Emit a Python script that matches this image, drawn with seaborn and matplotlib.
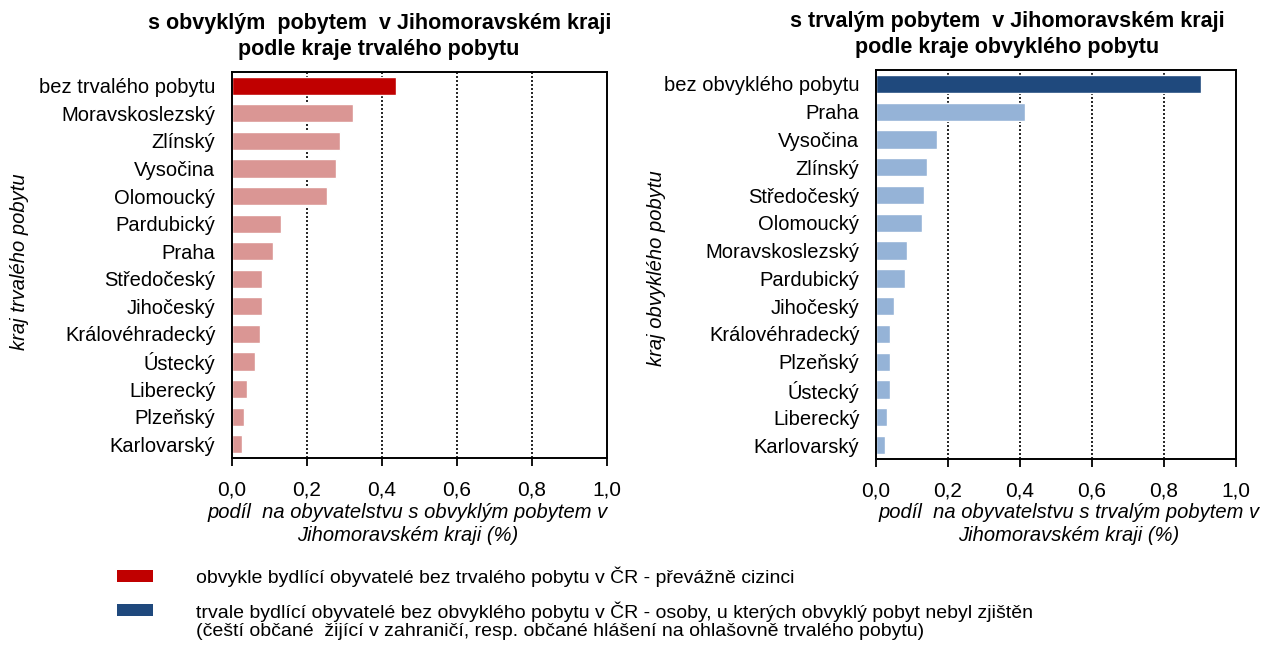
import matplotlib
matplotlib.use("Agg")
import matplotlib.pyplot as plt
import seaborn as sns
import pandas as pd
from matplotlib.patches import Rectangle

sns.set_theme(style="white")
plt.rcParams['font.family'] = ['Liberation Sans', 'DejaVu Sans']

# Left chart data
left_cats = ["bez trvalého pobytu", "Moravskoslezský", "Zlínský", "Vysočina", "Olomoucký",
             "Pardubický", "Praha", "Středočeský", "Jihočeský", "Královéhradecký",
             "Ústecký", "Liberecký", "Plzeňský", "Karlovarský"]
left_vals = [0.437, 0.323, 0.288, 0.277, 0.253, 0.131, 0.109, 0.080, 0.080, 0.075,
             0.061, 0.040, 0.032, 0.027]

# Right chart data
right_cats = ["bez obvyklého pobytu", "Praha", "Vysočina", "Zlínský", "Středočeský",
              "Olomoucký", "Moravskoslezský", "Pardubický", "Jihočeský", "Královéhradecký",
              "Plzeňský", "Ústecký", "Liberecký", "Karlovarský"]
right_vals = [0.904, 0.414, 0.170, 0.142, 0.133, 0.128, 0.086, 0.080, 0.049, 0.038,
              0.038, 0.038, 0.030, 0.024]

xticks = [0.0, 0.2, 0.4, 0.6, 0.8, 1.0]
xtick_labels = ["0,0", "0,2", "0,4", "0,6", "0,8", "1,0"]

RED, PINK = "#C00000", "#DA9694"
DBLUE, LBLUE = "#1F497D", "#95B3D7"

W, H = 1261, 646
fig = plt.figure(figsize=(W / 100, H / 100), dpi=100)


def ax_rect(x0, y0, x1, y1):
    return [x0 / W, 1 - y1 / H, (x1 - x0) / W, (y1 - y0) / H]


def draw(ax, cats, vals, first_col, rest_col):
    df = pd.DataFrame({"cat": cats, "val": vals})
    pal = {c: (first_col if i == 0 else rest_col) for i, c in enumerate(cats)}
    sns.barplot(data=df, x="val", y="cat", hue="cat", palette=pal, legend=False,
                orient="h", width=0.66, ax=ax, saturation=1)
    ax.set_xlim(0, 1.0)
    ax.set_ylim(len(cats) - 0.5, -0.5)
    ax.set_xticks(xticks)
    ax.set_xticklabels(xtick_labels, fontsize=15)
    ax.tick_params(axis="x", direction="out", length=6, width=1.3, color="black",
                   pad=10, bottom=True)
    ax.tick_params(axis="y", length=0, pad=12, labelsize=14.5)
    for lab in ax.get_yticklabels():
        lab.set_color("black")
    for lab in ax.get_xticklabels():
        lab.set_color("black")
    ax.set_xlabel("")
    ax.set_ylabel("")
    for x in xticks[1:-1]:
        ax.axvline(x, color="black", linestyle=(0, (1.2, 1.2)), linewidth=1.2, zorder=0)
    for s in ax.spines.values():
        s.set_visible(True)
        s.set_color("black")
        s.set_linewidth(1.4)


ax1 = fig.add_axes(ax_rect(232, 72, 607, 458))
draw(ax1, left_cats, left_vals, RED, PINK)
ax2 = fig.add_axes(ax_rect(876, 70, 1236, 459))
draw(ax2, right_cats, right_vals, DBLUE, LBLUE)


def ft(x, y, s, **kw):
    fig.text(x / W, 1 - y / H, s, **kw)


title_kw = dict(fontsize=15.5, fontweight="bold", ha="center", va="center", color="black")
ft(380, 24, "s obvyklým  pobytem  v Jihomoravském kraji", **title_kw)
ft(379, 50, "podle kraje trvalého pobytu", **title_kw)
ft(1007, 22, "s trvalým pobytem  v Jihomoravském kraji", **title_kw)
ft(1007, 48, "podle kraje obvyklého pobytu", **title_kw)

xl_kw = dict(fontsize=14.5, style="italic", ha="center", va="center", color="black",
             linespacing=1.25)
ft(408, 524, "podíl  na obyvatelstvu s obvyklým pobytem v\nJihomoravském kraji (%)", **xl_kw)
ft(1069, 524, "podíl  na obyvatelstvu s trvalým pobytem v\nJihomoravském kraji (%)", **xl_kw)

yl_kw = dict(fontsize=14.5, style="italic", ha="center", va="center", rotation=90, color="black")
ft(20, 262, "kraj trvalého pobytu", **yl_kw)
ft(657, 268, "kraj obvyklého pobytu", **yl_kw)

# Legend
fig.patches.append(Rectangle((117 / W, 1 - 582 / H), 36 / W, 12 / H, transform=fig.transFigure,
                             facecolor=RED, edgecolor="none"))
fig.patches.append(Rectangle((117 / W, 1 - 616 / H), 36 / W, 12 / H, transform=fig.transFigure,
                             facecolor=DBLUE, edgecolor="none"))
leg_kw = dict(fontsize=14, ha="left", va="center", color="black")
ft(196, 577, "obvykle bydlící obyvatelé bez trvalého pobytu v ČR - převážně cizinci", **leg_kw)
ft(196, 621, "trvale bydlící obyvatelé bez obvyklého pobytu v ČR - osoby, u kterých obvyklý pobyt nebyl zjištěn\n"
             "(čeští občané  žijící v zahraničí, resp. občané hlášení na ohlašovně trvalého pobytu)",
   linespacing=1.1, **leg_kw)

fig.savefig("out.png", dpi=100)
